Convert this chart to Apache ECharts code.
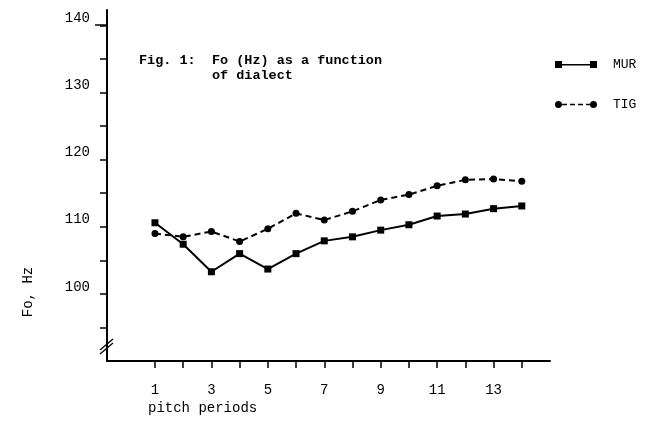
<!DOCTYPE html>
<html><head><meta charset="utf-8">
<script src="https://cdn.jsdelivr.net/npm/echarts@6/dist/echarts.min.js"></script>
<style>html,body{margin:0;padding:0;background:#fff}#c{width:651px;height:427px}</style>
</head><body><div id="c"></div>
<script>
const periods = [1,2,3,4,5,6,7,8,9,10,11,12,13,14];
const murValues = [110.6,107.4,103.3,106.0,103.7,106.0,107.9,108.5,109.5,110.3,111.6,111.9,112.7,113.1];
const tigValues = [109.0,108.5,109.3,107.8,109.7,112.0,111.0,112.3,114.0,114.8,116.1,117.0,117.1,116.8];
const xTickValues = [1,2,3,4,5,6,7,8,9,10,11,12,13,14];
const xLabelValues = [1,3,5,7,9,11,13];
const yTickValues = [95,100,105,110,115,120,125,130,135,140];
const yLabelValues = [100,110,120,130,140];
const seriesNames = ['MUR','TIG'];

const FONT = '"Liberation Mono", "DejaVu Sans Mono", monospace';
const chart = echarts.init(document.getElementById('c'), null, {renderer:'canvas'});
const pairs = (vals) => periods.map((p,i)=>[p, vals[i]]);
const murIcon = 'path://M0,0h7v7h-7z M7,3h28v1.6h-28z M35,0h7v7h-7z';
const tigIcon = 'path://M3.5,0a3.5,3.5 0 1 1 -0.01,0z M7,2.7h5v1.6h-5z M15,2.7h5v1.6h-5z M23,2.7h5v1.6h-5z M31,2.7h4v1.6h-4z M38.5,0a3.5,3.5 0 1 1 -0.01,0z';
chart.setOption({
  animation:false,
  backgroundColor:'#fff',
  title:{
    text:'Fig. 1:  Fo (Hz) as a function\n         of dialect',
    left:134, top:48,
    textStyle:{fontFamily:FONT, fontSize:13.5, fontWeight:'bold', color:'#000', lineHeight:15}
  },
  legend:{
    orient:'vertical', left:550, top:53, itemGap:27, itemWidth:42, itemHeight:7,
    data:[{name:seriesNames[0], icon:murIcon},{name:seriesNames[1], icon:tigIcon}],
    itemStyle:{color:'#000', borderWidth:0},
    textStyle:{fontFamily:FONT, fontSize:13, color:'#000', padding:[0,0,0,11]}
  },
  grid:{left:107, right:101, top:10, bottom:66, containLabel:false},
  xAxis:{
    type:'value', min:-0.7, max:15,
    axisLine:{show:true, onZero:false, lineStyle:{color:'#000', width:2}},
    axisTick:{show:true, customValues:xTickValues, length:7, lineStyle:{color:'#000', width:1.5}},
    axisLabel:{customValues:xLabelValues, margin:22, fontFamily:FONT, fontSize:14, color:'#000'},
    splitLine:{show:false}
  },
  yAxis:{
    type:'value', min:90, max:142.3,
    axisLine:{show:true, onZero:false, lineStyle:{color:'#000', width:2}},
    axisTick:{show:true, customValues:yTickValues, length:7, lineStyle:{color:'#000', width:1.5}},
    axisLabel:{customValues:yLabelValues, margin:17, fontFamily:FONT, fontSize:14, color:'#000', verticalAlign:'bottom'},
    splitLine:{show:false}
  },
  graphic:[
    {type:'line', shape:{x1:100,y1:350,x2:113,y2:339}, style:{stroke:'#000', lineWidth:1.3}},
    {type:'line', shape:{x1:100,y1:354,x2:113,y2:343}, style:{stroke:'#000', lineWidth:1.3}},
    {type:'line', shape:{x1:95,y1:25,x2:107,y2:25}, style:{stroke:'#000', lineWidth:1.5}},
    {type:'text', x:28, y:292, rotation:Math.PI/2, style:{text:'Fo, Hz', fontFamily:FONT, fontSize:14, fill:'#000', align:'center', verticalAlign:'middle'}},
    {type:'text', x:148, y:408, style:{text:'pitch periods', fontFamily:FONT, fontSize:14, fill:'#000', align:'left', verticalAlign:'middle'}}
  ],
  series:[
    {name:seriesNames[0], type:'line', data:pairs(murValues), symbol:'rect', symbolSize:7,
     itemStyle:{color:'#000'}, lineStyle:{color:'#000', width:2}},
    {name:seriesNames[1], type:'line', data:pairs(tigValues), symbol:'circle', symbolSize:7,
     itemStyle:{color:'#000'}, lineStyle:{color:'#000', width:2, type:[6,4]}}
  ]
});
</script></body></html>
